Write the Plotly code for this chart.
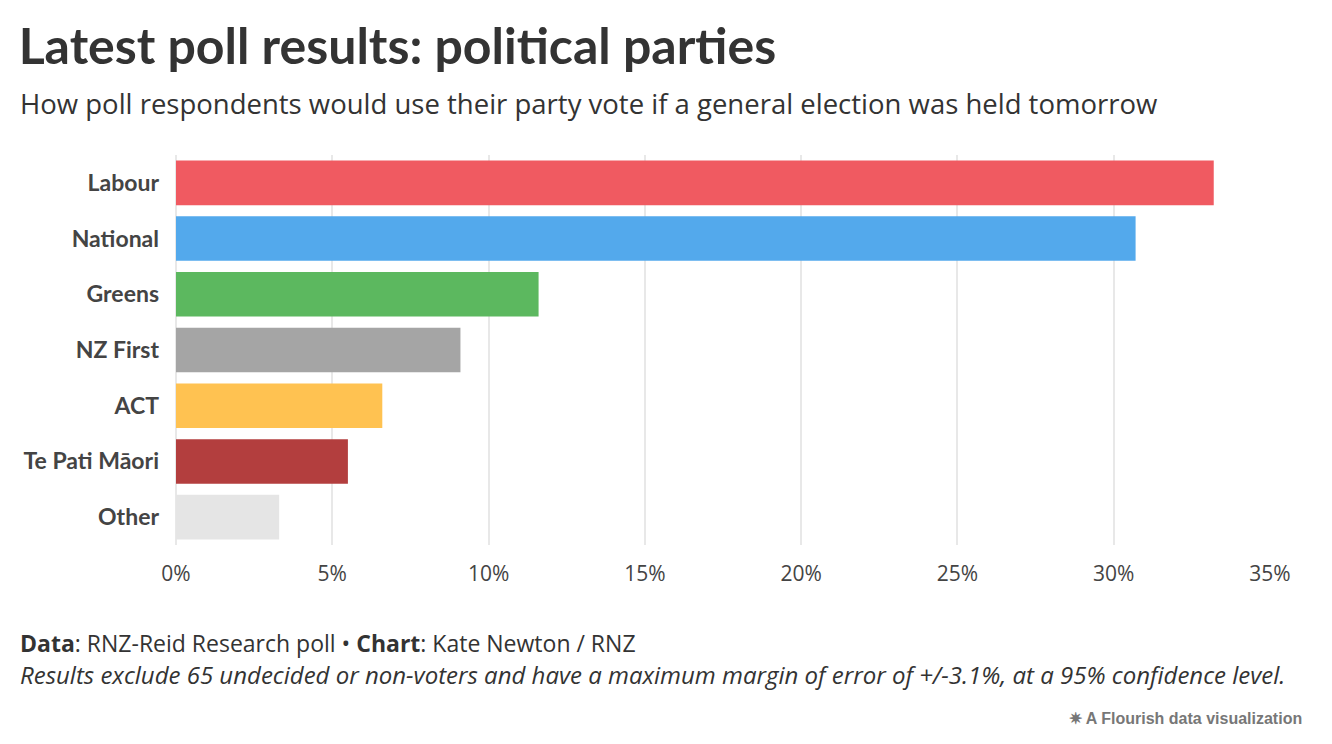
import plotly.graph_objects as go

parties = ["Labour", "National", "Greens", "NZ First", "ACT", "Te Pati Māori", "Other"]
values = [33.2, 30.7, 11.6, 9.1, 6.6, 5.5, 3.3]
colors = ["#f05a61", "#53a9ec", "#5cb85f", "#a5a5a5", "#ffc251", "#b33e3e", "#e5e5e5"]
ticks = [0, 5, 10, 15, 20, 25, 30, 35]

fig = go.Figure(go.Bar(y=parties, x=values, orientation="h", marker=dict(color=colors, line_width=0),
                       hovertemplate="%{y}: %{x}%<extra></extra>"))
fig.update_layout(
    width=1332, height=744, paper_bgcolor="white", plot_bgcolor="white",
    margin=dict(l=168, r=70, t=147, b=207), bargap=0.2, showlegend=False,
    font=dict(family="Lato, sans-serif", color="#333333"),
    title=dict(text="<b>Latest poll results: political parties</b>", x=0.008, xanchor="left", y=0.972, yanchor="top",
               font=dict(size=50, color="#333333")),
    xaxis=dict(range=[0, 35], tickvals=ticks, ticktext=[f"{t}%" for t in ticks], showgrid=True,
               gridcolor="#e8e8e8", gridwidth=1.5, zeroline=True, zerolinecolor="#e8e8e8",
               tickfont=dict(size=21, color="#444444", family="Open Sans"), ticks="", ticklabelstandoff=14),
    yaxis=dict(autorange="reversed", tickfont=dict(size=23, color="#444444"), ticks="", ticklabelstandoff=16),
)
fig.update_yaxes(tickprefix="<b>", ticksuffix="</b>")
L = -0.1445
fig.add_annotation(text="How poll respondents would use their party vote if a general election was held tomorrow",
                   xref="paper", yref="paper", x=L, y=1.133, xanchor="left", yanchor="middle", showarrow=False,
                   font=dict(size=27.5, color="#333333", family="Open Sans"))
fig.add_annotation(text="<b>Data</b>: RNZ-Reid Research poll • <b>Chart</b>: Kate Newton / RNZ",
                   xref="paper", yref="paper", x=L, y=-0.251, xanchor="left", yanchor="middle", showarrow=False,
                   font=dict(size=23, color="#333333", family="Open Sans"))
fig.add_annotation(text="<i>Results exclude 65 undecided or non-voters and have a maximum margin of error of +/-3.1%, at a 95% confidence level.</i>",
                   xref="paper", yref="paper", x=L, y=-0.333, xanchor="left", yanchor="middle", showarrow=False,
                   font=dict(size=24, color="#333333", family="Open Sans"))
fig.add_annotation(text="<b>✷ A Flourish data visualization</b>", xref="paper", yref="paper", x=1.031, y=-0.444,
                   xanchor="right", yanchor="middle", showarrow=False, font=dict(size=16, color="#777777", family="Arial"))
fig.write_html("out.html")
